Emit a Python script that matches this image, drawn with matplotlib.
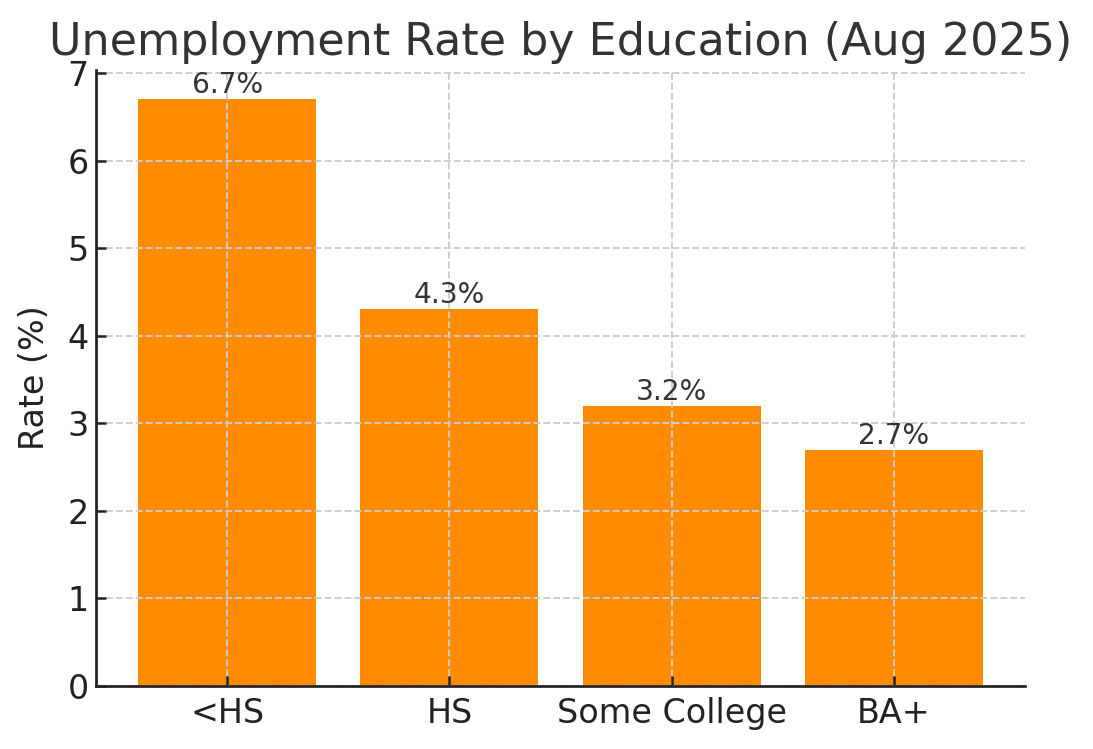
import matplotlib
matplotlib.use('Agg')
import matplotlib.pyplot as plt

categories = ['<HS', 'HS', 'Some College', 'BA+']
rates = [6.7, 4.3, 3.2, 2.7]

fig = plt.figure(figsize=(1093/150, 749/150), dpi=150)
ax = fig.add_axes([96/1093, 1 - 686/749, (1025-96)/1093, (686-70)/749])

bars = ax.bar(categories, rates, color='#FF8C00', width=0.8, zorder=1)
for b, v in zip(bars, rates):
    ax.text(b.get_x() + b.get_width()/2, v, f'{v}%', ha='center', va='bottom',
            fontsize=13.5, color='#333333', zorder=3)

ax.set_title('Unemployment Rate by Education (Aug 2025)', fontsize=21.3, color='#333333', pad=7)
ax.set_ylabel('Rate (%)', fontsize=16, color='#222222', labelpad=8)
ax.set_axisbelow('line')
ax.grid(True, linestyle='--', color='#cccccc', linewidth=0.9)
for s in ['top', 'right']:
    ax.spines[s].set_visible(False)
for s in ['left', 'bottom']:
    ax.spines[s].set_linewidth(1.3)
    ax.spines[s].set_color('#222222')
ax.tick_params(direction='in', labelsize=16, colors='#222222', length=5, width=1.2)
ax.tick_params(axis='x', pad=5.5)

fig.savefig('out.png', dpi=150)
